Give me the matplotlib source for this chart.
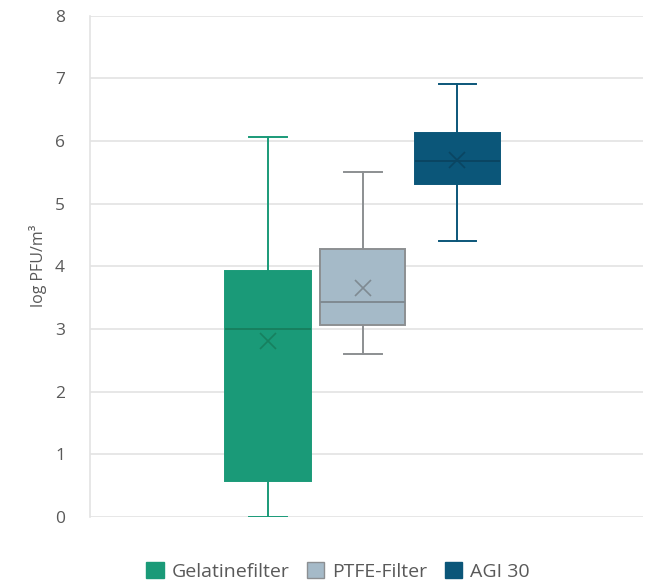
import matplotlib
matplotlib.use("Agg")
import matplotlib.pyplot as plt
from matplotlib.patches import Patch

plt.rcParams['font.family'] = ['Open Sans', 'DejaVu Sans']

# values (log PFU/m3)
series = ['Gelatinefilter', 'PTFE-Filter', 'AGI 30']
whis_lo = [0.0, 2.60, 4.40]
q1 = [0.57, 3.07, 5.31]
medians = [3.0, 3.43, 5.68]
q3 = [3.93, 4.28, 6.13]
whis_hi = [6.07, 5.51, 6.90]
means = [2.81, 3.65, 5.70]

fills = ['#1a9a78', '#a5bac8', '#0b5679']
edges = ['#1a9a78', '#8c8f92', '#0b5679']
darks = ['#17805f', '#7f8a92', '#0a4562']
positions = [-1, 0, 1]

fig = plt.figure(figsize=(6.5, 5.84), dpi=100)
ax = fig.add_axes([0.1385, 0.1147, 0.8508, 0.8587])

stats = []
for i in range(len(series)):
    stats.append(dict(label=series[i], whislo=whis_lo[i], q1=q1[i], med=medians[i],
                      q3=q3[i], whishi=whis_hi[i], mean=means[i], fliers=[]))

for i in range(len(series)):
    ax.bxp([stats[i]], positions=[positions[i]], widths=0.9, patch_artist=True,
           showmeans=True, showfliers=False, manage_ticks=False,
           boxprops=dict(facecolor=fills[i], edgecolor=edges[i], linewidth=1.4),
           medianprops=dict(color=darks[i], linewidth=1.4),
           whiskerprops=dict(color=edges[i], linewidth=1.4),
           capprops=dict(color=edges[i], linewidth=1.4),
           meanprops=dict(marker='x', markeredgecolor=darks[i], markersize=11,
                          markeredgewidth=1.2),
           capwidths=0.4, zorder=3)

ax.set_xlim(-2.88, 2.96)
ax.set_ylim(0, 8)
ax.set_yticks(range(0, 9))
ax.set_xticks([])
ax.grid(axis='y', color='#e3e3e3', linewidth=1.2, zorder=0)
ax.set_axisbelow(True)
for s in ['top', 'right', 'bottom']:
    ax.spines[s].set_visible(False)
ax.spines['left'].set_color('#e3e3e3')
ax.spines['left'].set_linewidth(1.2)
ax.tick_params(axis='y', length=0, pad=18, labelsize=12.5, labelcolor='#595959')
ax.set_ylabel('log PFU/m³', fontsize=11.5, color='#595959', labelpad=6)

handles = [Patch(facecolor=fills[i], edgecolor=edges[i]) for i in range(len(series))]
fig.legend(handles, series, loc='lower center', bbox_to_anchor=(0.52, -0.025), ncol=3,
           frameon=False, fontsize=14, handlelength=0.9, handleheight=0.9,
           handletextpad=0.4, columnspacing=0.9, labelcolor='#595959')

fig.savefig('out.png', dpi=100)
